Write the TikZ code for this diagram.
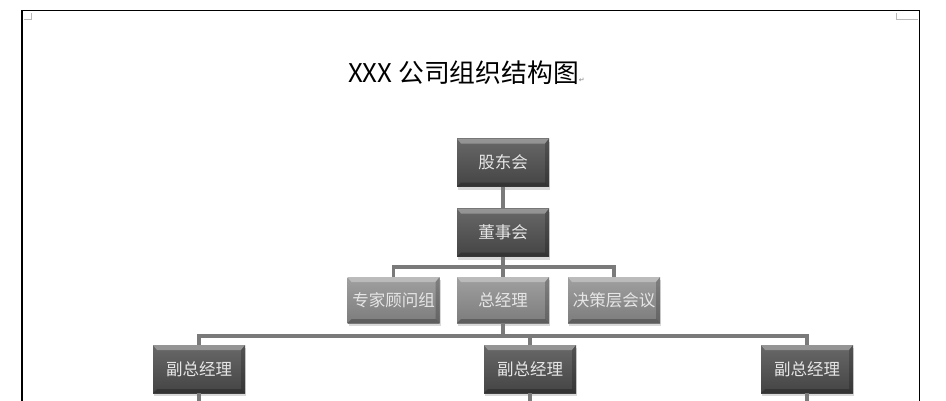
\documentclass[tikz,border=0pt]{standalone}
\usepackage{fontspec}
\setmainfont{Noto Sans CJK SC}
\newfontfamily\markfont{DejaVu Sans}
\usetikzlibrary{positioning, shadows}
\definecolor{linegray}{RGB}{122,122,122}
\definecolor{darktop}{RGB}{104,104,104}
\definecolor{darkbot}{RGB}{68,68,68}
\definecolor{lighttop}{RGB}{160,160,160}
\definecolor{lightbot}{RGB}{124,124,124}

\begin{document}
\begin{tikzpicture}[x=1pt,y=-1pt,
  box/.style={minimum width=92pt, minimum height=48pt, inner sep=0pt,
    text={rgb,255:red,230;green,230;blue,230}, font=\fontsize{16.5}{18}\selectfont,
    drop shadow={shadow xshift=1pt, shadow yshift=-3pt, opacity=.3},
    path picture={
      \fill[white,opacity=.3] (path picture bounding box.north west) -- (path picture bounding box.north east)
        -- ([shift={(-4pt,-5pt)}]path picture bounding box.north east) -- ([shift={(4pt,-5pt)}]path picture bounding box.north west) -- cycle;
      \fill[black,opacity=.25] (path picture bounding box.south west) -- (path picture bounding box.south east)
        -- ([shift={(-4pt,4pt)}]path picture bounding box.south east) -- ([shift={(4pt,4pt)}]path picture bounding box.south west) -- cycle;
      \fill[black,opacity=.2] (path picture bounding box.north east) -- (path picture bounding box.south east)
        -- ([shift={(-4pt,4pt)}]path picture bounding box.south east) -- ([shift={(-4pt,-5pt)}]path picture bounding box.north east) -- cycle;
    }},
  darkbox/.style={box, top color=darktop, bottom color=darkbot},
  lightbox/.style={box, minimum height=46pt, top color=lighttop, bottom color=lightbot},
  conn/.style={draw=linegray, line width=3.8pt}]
\useasboundingbox (0,0) rectangle (946,400);

% page frame
\draw[line width=1.8pt] (22,410) -- (22,10.5) -- (919.5,10.5) -- (919.5,410);
\draw[gray!55, line width=.8pt] (24,19) -- (31,19) -- (31,13);
\draw[gray!55, line width=.8pt] (896,13) -- (896,19) -- (918,19);

\node (title) at (348,82)[anchor=base west, inner sep=0pt, font=\fontsize{25.8}{28}\selectfont]
  {XXX 公司组织结构图{\markfont\fontsize{7}{7}\selectfont\textcolor{gray}{↵}}};

\node (gdh) at (503,162.5)[darkbox]{股东会};
\node (dsh) at (503,232.5)[darkbox]{董事会};
\node (zjgw) at (393.5,300)[lightbox]{专家顾问组};
\node (zjl) at (503,300)[lightbox]{总经理};
\node (jcc) at (614,300)[lightbox]{决策层会议};
\node (fz1) at (199,369)[darkbox]{副总经理};
\node (fz2) at (530,369)[darkbox]{副总经理};
\node (fz3) at (807,369)[darkbox]{副总经理};
\coordinate (e1) at (199,410);
\coordinate (e2) at (530,410);
\coordinate (e3) at (807,410);

\draw[conn] (gdh) -- (dsh);
\draw[conn] (dsh) -- (zjl);
\draw[conn] (zjgw.north) -- ++(0,-10) -| (jcc.north);
\draw[conn] (zjl.south) -- ++(0,13);
\draw[conn] (fz1.north) -- ++(0,-9) -| (fz3.north);
\draw[conn] (fz2.north) -- ++(0,-9);
\draw[conn] (fz1.south) -- (e1);
\draw[conn] (fz2.south) -- (e2);
\draw[conn] (fz3.south) -- (e3);
\end{tikzpicture}
\end{document}
